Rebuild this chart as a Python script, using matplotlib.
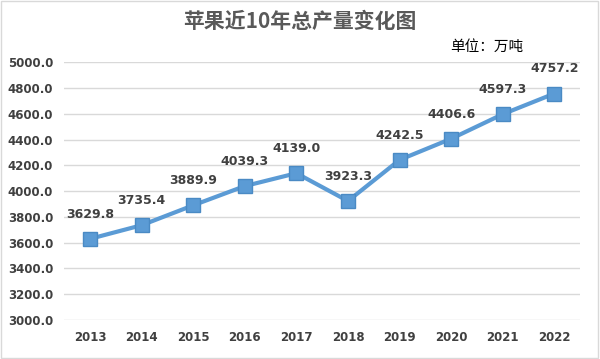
import matplotlib
matplotlib.use("Agg")
import matplotlib.pyplot as plt

plt.rcParams['font.family'] = ['Noto Sans CJK SC', 'DejaVu Sans']

years = ["2013", "2014", "2015", "2016", "2017", "2018", "2019", "2020", "2021", "2022"]
production = [3629.8, 3735.4, 3889.9, 4039.3, 4139.0, 3923.3, 4242.5, 4406.6, 4597.3, 4757.2]
yticks = [3000, 3200, 3400, 3600, 3800, 4000, 4200, 4400, 4600, 4800, 5000]

fig = plt.figure(figsize=(6.0, 3.59), dpi=100)
ax = fig.add_axes([0.107, 0.1086, 0.86, 0.718])

x = list(range(len(years)))
ax.plot(x, production, color='#5B9BD5', linewidth=3, marker='s', markersize=10,
        markerfacecolor='#5B9BD5', markeredgecolor='#4A8AC4', zorder=3)

for xi, v in zip(x, production):
    ax.annotate(f"{v:.1f}", (xi, v), xytext=(0, 13), textcoords='offset points',
                ha='center', va='bottom', fontsize=9, fontweight='bold', color='#404040',
                family=['DejaVu Sans'])

ax.set_xlim(-0.5, len(years) - 0.5)
ax.set_ylim(3000, 5000)
ax.set_yticks(yticks)
ax.set_yticklabels([f"{t:.1f}" for t in yticks], family=['DejaVu Sans'])
ax.set_xticks(x)
ax.set_xticklabels(years, family=['DejaVu Sans'])
ax.tick_params(axis='both', length=0, labelsize=8.5, colors='#404040', pad=8)
for lab in ax.get_xticklabels() + ax.get_yticklabels():
    lab.set_fontweight('bold')
ax.grid(axis='y', color='#D9D9D9', linewidth=1)
ax.set_axisbelow(True)
for s in ax.spines.values():
    s.set_visible(False)

fig.text(0.5, 0.94, "苹果近10年总产量变化图", ha='center', va='center',
         fontsize=15, fontweight='bold', color='#595959')
fig.text(0.75, 0.87, "单位：万吨", ha='left', va='center', fontsize=10.5, color='#000000')

fig.patches.append(plt.Rectangle((0.002, 0.003), 0.995, 0.994, transform=fig.transFigure,
                                 fill=False, edgecolor='#D9D9D9', linewidth=1))

fig.savefig("out.png", dpi=100)
